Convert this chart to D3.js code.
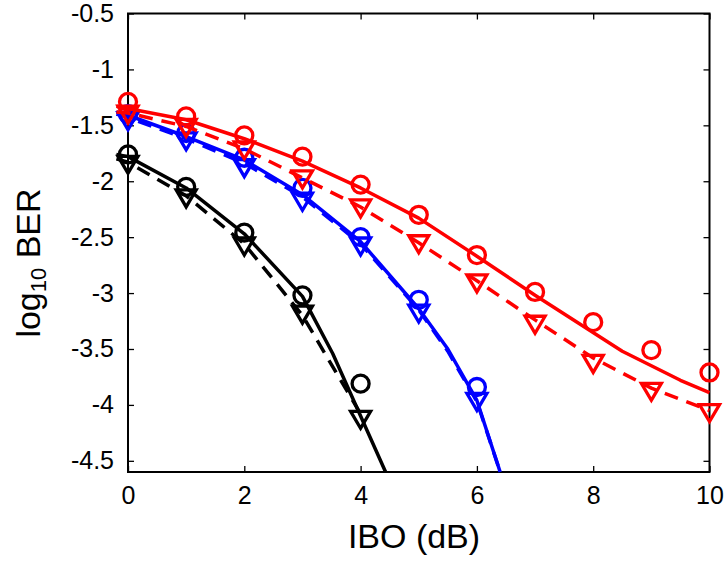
<!DOCTYPE html>
<html><head><meta charset="utf-8">
<script src="https://cdn.jsdelivr.net/npm/d3@7"></script>
<style>body{margin:0;background:#fff}svg{display:block}text{font-family:"Liberation Sans",Arial,sans-serif}</style>
</head><body>
<svg id="c" width="728" height="562"></svg>
<script>
// marker abscissas
const markerX = [0,1,2,3,4,5,6,7,8,9,10];
// Red
const redCircles   = [-1.29,-1.42,-1.59,-1.78,-2.03,-2.30,-2.66,-2.99,-3.26,-3.51,-3.71];
const redTriangles = [-1.39,-1.51,-1.71,-1.97,-2.23,-2.55,-2.90,-3.27,-3.62,-3.87,-4.06];
const redSolidX = [-0.2,0,1,2,3,4,5,6,7,8.5,9.5,10];
const redSolidY = [-1.33,-1.35,-1.45,-1.62,-1.82,-2.06,-2.33,-2.67,-3.02,-3.52,-3.78,-3.89];
const redDashX  = [-0.2,0,1,2,3,4,5,6,7,8,9,10];
const redDashY  = [-1.38,-1.39,-1.51,-1.71,-1.97,-2.23,-2.55,-2.89,-3.24,-3.58,-3.85,-4.05];
// Blue
const blueCircles   = [-1.40,-1.57,-1.79,-2.06,-2.50,-3.06,-3.84];
const blueTriangles = [-1.45,-1.63,-1.87,-2.17,-2.57,-3.17,-3.96];
const blueSolidX = [-0.2,0,1,2,3,4,5,5.5,6,6.4];
const blueSolidY = [-1.38,-1.41,-1.60,-1.81,-2.12,-2.54,-3.14,-3.50,-3.96,-4.6];
const blueDashX  = [-0.2,0,1,2,3,4,5,5.5,6,6.4];
const blueDashY  = [-1.40,-1.43,-1.62,-1.84,-2.14,-2.56,-3.15,-3.52,-3.97,-4.6];
// Black
const blackCircles   = [-1.76,-2.05,-2.46,-3.02,-3.81];
const blackTriangles = [-1.84,-2.14,-2.57,-3.18,-4.12];
const blackSolidX = [-0.2,0,1,2,3,3.52,4.43];
const blackSolidY = [-1.76,-1.78,-2.06,-2.47,-3.03,-3.54,-4.6];
const blackDashX  = [-0.2,0,1,2,3,4];
const blackDashY  = [-1.80,-1.83,-2.13,-2.56,-3.20,-4.08];
// ticks
const xTicks = [0,2,4,6,8,10];
const yTicks = [-0.5,-1,-1.5,-2,-2.5,-3,-3.5,-4,-4.5];

const svg = d3.select("#c");
const L=128, R=709.5, T=13.5, B=472;
const x = d3.scaleLinear().domain([0,10]).range([L,R]);
const y = d3.scaleLinear().domain([-4.6,-0.5]).range([B,T]);

// axes
const fmt = d => String(d);
const axB = svg.append("g").attr("transform",`translate(0,${B})`)
  .call(d3.axisBottom(x).tickValues(xTicks).tickSizeInner(-6).tickSizeOuter(0).tickPadding(14).tickFormat(fmt));
const axT = svg.append("g").attr("transform",`translate(0,${T})`)
  .call(d3.axisTop(x).tickValues(xTicks).tickSizeInner(-6).tickSizeOuter(0).tickFormat(""));
const axL = svg.append("g").attr("transform",`translate(${L},0)`)
  .call(d3.axisLeft(y).tickValues(yTicks).tickSizeInner(-6).tickSizeOuter(0).tickPadding(14).tickFormat(fmt));
const axR = svg.append("g").attr("transform",`translate(${R},0)`)
  .call(d3.axisRight(y).tickValues(yTicks).tickSizeInner(-6).tickSizeOuter(0).tickFormat(""));
[axB,axT,axL,axR].forEach(a=>{
  a.select(".domain").remove();
  a.selectAll("line").attr("stroke","#000").attr("stroke-width",1.3);
  a.selectAll("text").attr("font-size",25).attr("fill","#000").attr("font-family","Liberation Sans, Arial, sans-serif");
});
svg.append("rect").attr("x",L).attr("y",T).attr("width",R-L).attr("height",B-T)
  .attr("fill","none").attr("stroke","#000").attr("stroke-width",2);

// series
const line = d3.line().x(d=>x(d[0])).y(d=>y(d[1]));
function drawLine(xs, ys, color, dashed){
  svg.append("path").datum(xs.map((v,i)=>[v,ys[i]]))
    .attr("d",line).attr("fill","none").attr("stroke",color).attr("stroke-width",3.5)
    .attr("stroke-dasharray",dashed?"14,9":null).attr("stroke-linejoin","round");
}
function drawCircles(vals,color){
  svg.append("g").selectAll("circle").data(vals).join("circle")
    .attr("cx",(d,i)=>x(markerX[i])).attr("cy",d=>y(d)).attr("r",8.5)
    .attr("fill","none").attr("stroke",color).attr("stroke-width",3.3);
}
function drawTriangles(vals,color){
  svg.append("g").selectAll("path").data(vals).join("path")
    .attr("transform",(d,i)=>`translate(${x(markerX[i])},${y(d)})`)
    .attr("d","M-10,-7L10,-7L0,10Z")
    .attr("fill","none").attr("stroke",color).attr("stroke-width",3.3).attr("stroke-linejoin","miter");
}
drawLine(blackDashX,blackDashY,"#000",true);
drawLine(blackSolidX,blackSolidY,"#000",false);
drawTriangles(blackTriangles,"#000");
drawCircles(blackCircles,"#000");
drawLine(blueDashX,blueDashY,"#0000ff",true);
drawLine(blueSolidX,blueSolidY,"#0000ff",false);
drawTriangles(blueTriangles,"#0000ff");
drawCircles(blueCircles,"#0000ff");
drawLine(redDashX,redDashY,"#ff0000",true);
drawLine(redSolidX,redSolidY,"#ff0000",false);
drawTriangles(redTriangles,"#ff0000");
drawCircles(redCircles,"#ff0000");

// labels
svg.append("text").attr("x",414).attr("y",548).attr("text-anchor","middle")
  .attr("font-size",34).attr("fill","#000").text("IBO (dB)");
const yl = svg.append("text").attr("transform","translate(40,263) rotate(-90)")
  .attr("text-anchor","middle").attr("font-size",34).attr("fill","#000");
yl.append("tspan").text("log");
yl.append("tspan").attr("font-size",22).attr("dy",6).text("10");
yl.append("tspan").attr("dy",-6).text(" BER");
</script>
</body></html>
